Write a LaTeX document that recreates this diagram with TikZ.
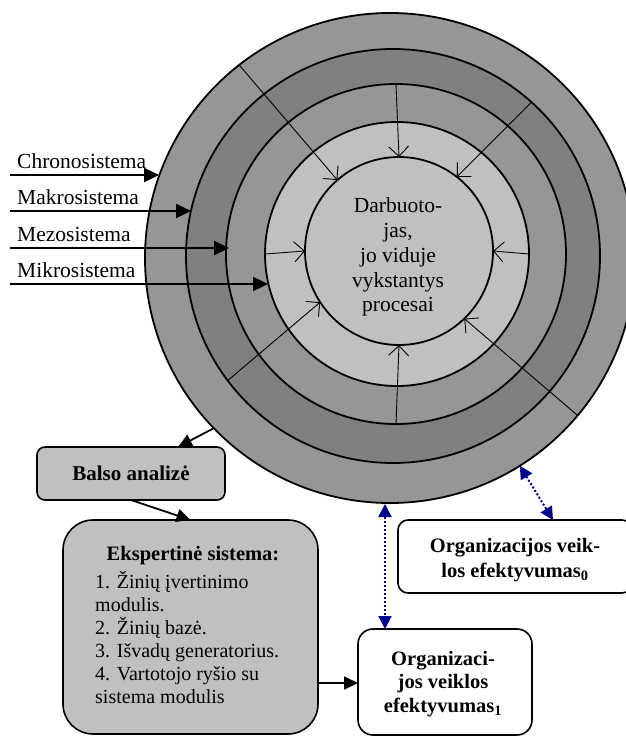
\documentclass[tikz,border=0pt]{standalone}
\usepackage{fontspec}
\setmainfont{Liberation Serif}
\usetikzlibrary{arrows.meta,calc}
\definecolor{gA}{RGB}{150,150,150}
\definecolor{gB}{RGB}{128,128,128}
\definecolor{gC}{RGB}{192,192,192}
\definecolor{navyb}{RGB}{0,0,140}
\begin{document}
\begin{tikzpicture}[x=1pt,y=-1pt,
 ring/.style={circle,draw=black,line width=1.8pt,inner sep=0pt,outer sep=0pt},
 inarrow/.style={line width=0.9pt,-{Straight Barb[length=10pt,width=20pt]}},
 lblarrow/.style={line width=2.4pt,-{Triangle[length=15pt,width=14pt]}},
 conn/.style={line width=1.8pt,-{Triangle[length=14pt,width=13pt]}},
 dotarrow/.style={navyb,line width=2pt,dash pattern=on 2pt off 2pt,{Triangle[length=13pt,width=13pt]}-{Triangle[length=13pt,width=13pt]}},
 lbl/.style={font=\fontsize{21.5}{25}\selectfont,inner sep=0pt,anchor=base west},
 elbl/.style={font=\fontsize{20}{24}\selectfont,inner sep=0pt,anchor=base west},
 ctr/.style={font=\fontsize{21.5}{25}\selectfont,inner sep=0pt,anchor=base},
 btxt/.style={font=\bfseries\fontsize{20.5}{24}\selectfont,inner sep=0pt,anchor=base},
 box/.style={draw=black,line width=1.6pt,inner sep=0pt,outer sep=0pt},
]
\useasboundingbox (0,0) rectangle (626,736);

% rings
\node[ring,fill=gA,minimum size=490pt] (c5) at (390,258) {};
\node[ring,fill=gB,minimum size=414pt] (c4) at (393,256) {};
\node[ring,fill=gA,minimum size=340pt] (c3) at (396,254) {};
\node[ring,fill=gC,minimum size=264pt] (c2) at (397,254) {};
\node[ring,fill=gC,minimum size=188pt] (c1) at (399,251) {};

% inner arrows
\draw[inarrow] (c5.128.5) -- (c1.131);
\draw[inarrow] (c3.90) -- (c1.90);
\draw[inarrow] (c4.48) -- (c1.52);
\draw[inarrow] (c2.180) -- (c1.180);
\draw[inarrow] (c2.0) -- (c1.0);
\draw[inarrow] (c4.217) -- (c1.213);
\draw[inarrow] (c3.270) -- (c1.270);
\draw[inarrow] (c5.320) -- (c1.314);

% centre text
\node[ctr] (t1) at (398,212) {Darbuoto-};
\node[ctr] (t2) at (398,237) {jas,};
\node[ctr] (t3) at (398,262) {jo viduje};
\node[ctr] (t4) at (398,287) {vykstantys};
\node[ctr] (t5) at (398,311) {procesai};

% left labels
\node[lbl] (chr) at (17,168) {Chronosistema};
\node[lbl] (mak) at (17,204) {Makrosistema};
\node[lbl] (mez) at (17,241) {Mezosistema};
\node[lbl] (mik) at (17,277) {Mikrosistema};
\coordinate (chrS) at (10,175);
\coordinate (chrE) at (159,175);
\coordinate (makS) at (10,211);
\coordinate (makE) at (191,211);
\coordinate (mezS) at (10,248);
\coordinate (mezE) at (229,248);
\coordinate (mikS) at (10,284);
\coordinate (mikE) at (268,284);
\draw[lblarrow] (chrS) -- (chrE);
\draw[lblarrow] (makS) -- (makE);
\draw[lblarrow] (mezS) -- (mezE);
\draw[lblarrow] (mikS) -- (mikE);

% boxes
\node[box,fill=gC,rounded corners=8pt,minimum width=188pt,minimum height=53pt,
  font=\bfseries\fontsize{21}{24}\selectfont] (balso) at (131,473.5) {Balso analizė};
\node[box,fill=gC,rounded corners=30pt,minimum width=255pt,minimum height=214pt] (eks) at (190.5,627) {};
\node[btxt] (eksT) at (193,560) {Ekspertinė sistema:};
\node[elbl] (e1) at (95,588) {1. Žinių įvertinimo};
\node[elbl] (e2) at (95,611) {modulis.};
\node[elbl] (e3) at (95,634) {2. Žinių bazė.};
\node[elbl] (e4) at (95,657) {3. Išvadų generatorius.};
\node[elbl] (e5) at (95,680) {4. Vartotojo ryšio su};
\node[elbl] (e6) at (95,703) {sistema modulis};

\node[box,fill=white,rounded corners=10pt,minimum width=234pt,minimum height=73pt] (org0) at (515,556.5) {};
\node[btxt] (o0a) at (515,552) {Organizacijos veik-};
\node[btxt] (o0b) at (515,577) {los efektyvumas\textsubscript{0}};

\node[box,fill=white,rounded corners=15pt,minimum width=174pt,minimum height=106pt] (org1) at (445,682) {};
\node[btxt] (o1a) at (443,665) {Organizaci-};
\node[btxt] (o1b) at (443,688) {jos veiklos};
\node[btxt] (o1c) at (443,712) {efektyvumas\textsubscript{1}};

% connectors
\coordinate (bt) at (178,447);
\draw[conn] (c5.224) -- (bt);
\draw[conn] (balso.south) -- (eks.north);
\draw[conn] (eks.east |- 0,683) -- (org1.west |- 0,683);
\coordinate (bu) at (385,504);
\coordinate (bv) at (385,629);
\draw[dotarrow] (bu) -- (bv);
\coordinate (dt) at (553,520);
\draw[dotarrow] (c5.302) -- (dt);
\end{tikzpicture}
\end{document}
